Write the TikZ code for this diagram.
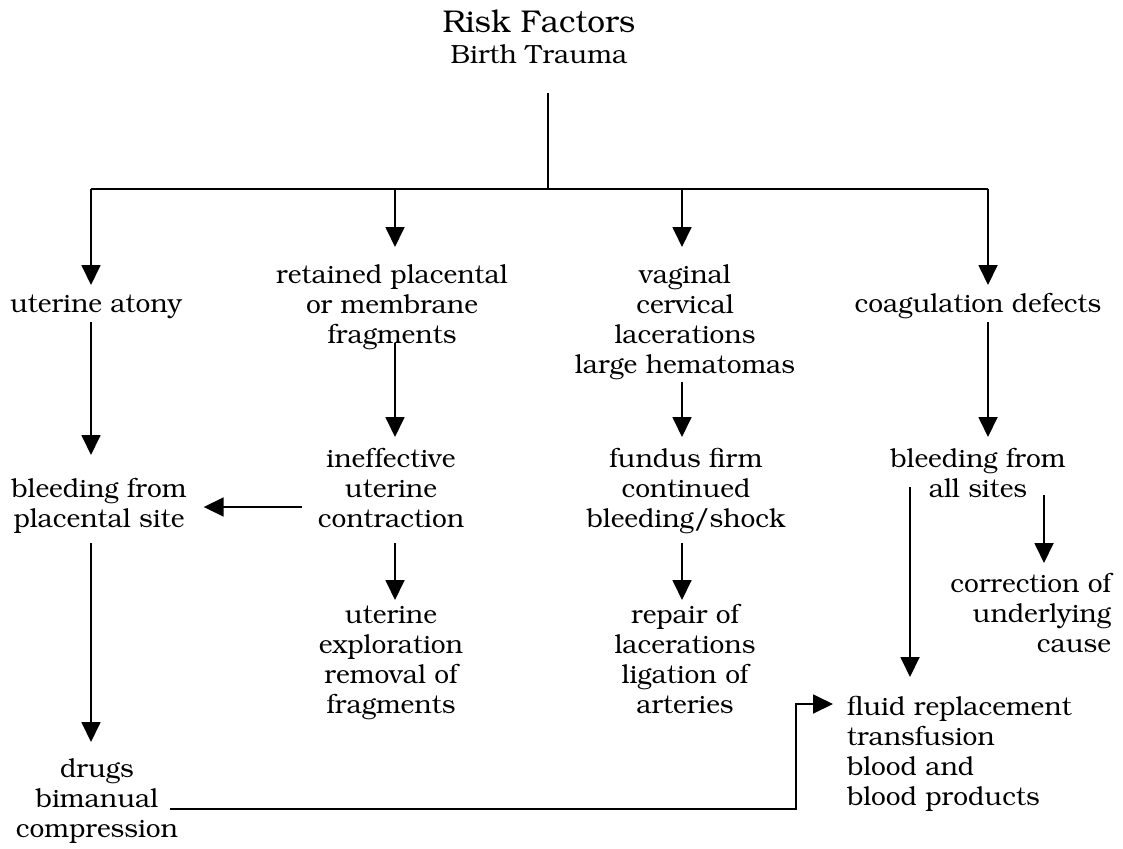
\documentclass[tikz,border=0pt]{standalone}
\usepackage[T1]{fontenc}
\usepackage{bookman}
\usetikzlibrary{arrows.meta,calc}
\begin{document}
\begin{tikzpicture}[x=1pt,y=-1pt,
  txt/.style={inner sep=0pt, outer sep=0pt, align=center, anchor=north,
              font=\fontsize{26.3}{30}\selectfont},
  link/.style={line width=1.8pt},
  arr/.style={link, -{Triangle[length=20pt,width=19pt]}}]
\fill[white] (0,0) rectangle (1123,848);
\useasboundingbox (0,0) rectangle (1123,848);

% column positions of the vertical connectors
\coordinate (hub) at (548,189);
\coordinate (bl)  at (91,189);
\coordinate (bm1) at (395,189);
\coordinate (bm2) at (682,189);
\coordinate (br)  at (988,189);
\coordinate (cA)  at (910,0);
\coordinate (cB)  at (1044,0);
\coordinate (mid) at (0,507);
\coordinate (bendB) at (796,809);
\coordinate (bendT) at (796,704);

% heading
\node[inner sep=0pt, anchor=base, font=\fontsize{31.5}{35}\selectfont] (rf) at (539,33) {Risk Factors};
\node[txt] (bt) at (539,43) {\strut Birth Trauma\strut};

% first row
\node[txt] (atony) at (96,291) {\strut uterine atony\strut};
\node[txt] (retained) at (392,262) {\strut retained placental\\or membrane\\fragments\strut};
\node[txt] (vaginal) at (685,262) {\strut vaginal\\cervical\\lacerations\\large hematomas\strut};
\node[txt] (coag) at (978,291) {\strut coagulation defects\strut};

% second row
\node[txt] (bleedA) at (99,476) {\strut bleeding from\\placental site\strut};
\node[txt] (ineff) at (391,446) {\strut ineffective\\uterine\\contraction\strut};
\node[txt] (fundus) at (686,446) {\strut fundus firm\\continued\\bleeding/shock\strut};
\node[txt] (bleedR) at (978,446) {\strut bleeding from\\all sites\strut};

% treatments
\node[txt, anchor=north east, align=right] (correct) at (1111,571) {\strut correction of\\underlying\\cause\strut};
\node[txt] (explore) at (391,602) {\strut uterine\\exploration\\removal of\\fragments\strut};
\node[txt] (repair) at (685,602) {\strut repair of\\lacerations\\ligation of\\arteries\strut};
\node[txt, anchor=north west, align=left] (fluid) at (847,694) {\strut fluid replacement\\transfusion\\blood and\\blood products\strut};
\node[txt] (drugs) at (97,756) {\strut drugs\\bimanual\\compression\strut};

% distribution bus
\draw[link, shorten <=20pt] (bt.south -| hub) -- (hub);
\draw[link] (bl) -- (br);
\draw[arr, shorten >=6pt]  (bl)  -- (atony.north -| bl);
\draw[arr, shorten >=15pt] (bm1) -- (retained.north -| bm1);
\draw[arr, shorten >=15pt] (bm2) -- (vaginal.north -| bm2);
\draw[arr, shorten >=6pt]  (br)  -- (coag.north -| br);

% causes to findings
\draw[arr, shorten <=1pt, shorten >=21pt] (atony.south -| bl) -- (bleedA.north -| bl);
\draw[arr, shorten <=-9pt, shorten >=9pt] (retained.south -| bm1) -- (ineff.north -| bm1);
\draw[arr, shorten >=9pt] (vaginal.south -| bm2) -- (fundus.north -| bm2);
\draw[arr, shorten <=1pt, shorten >=9pt] (coag.south -| br) -- (bleedR.north -| br);
\draw[arr, shorten <=16pt, shorten >=17pt] (ineff.west |- mid) -- (bleedA.east |- mid);

% findings to treatments
\draw[arr, shorten <=7pt, shorten >=14pt] (bleedA.south -| bl) -- (drugs.north -| bl);
\draw[arr, shorten <=7pt, shorten >=2pt] (ineff.south -| bm1) -- (explore.north -| bm1);
\draw[arr, shorten <=7pt, shorten >=2pt] (fundus.south -| bm2) -- (repair.north -| bm2);
\draw[arr, shorten <=-11pt, shorten >=8pt] (bleedR.south -| cB) -- (correct.north -| cB);
\draw[arr, shorten <=-19pt, shorten >=17pt] (bleedR.south -| cA) -- (fluid.north -| cA);
\draw[arr, shorten <=-8pt, shorten >=14pt] (drugs.east |- bendB) -- (bendB) -- (bendT) -- (fluid.west |- bendT);
\end{tikzpicture}
\end{document}
